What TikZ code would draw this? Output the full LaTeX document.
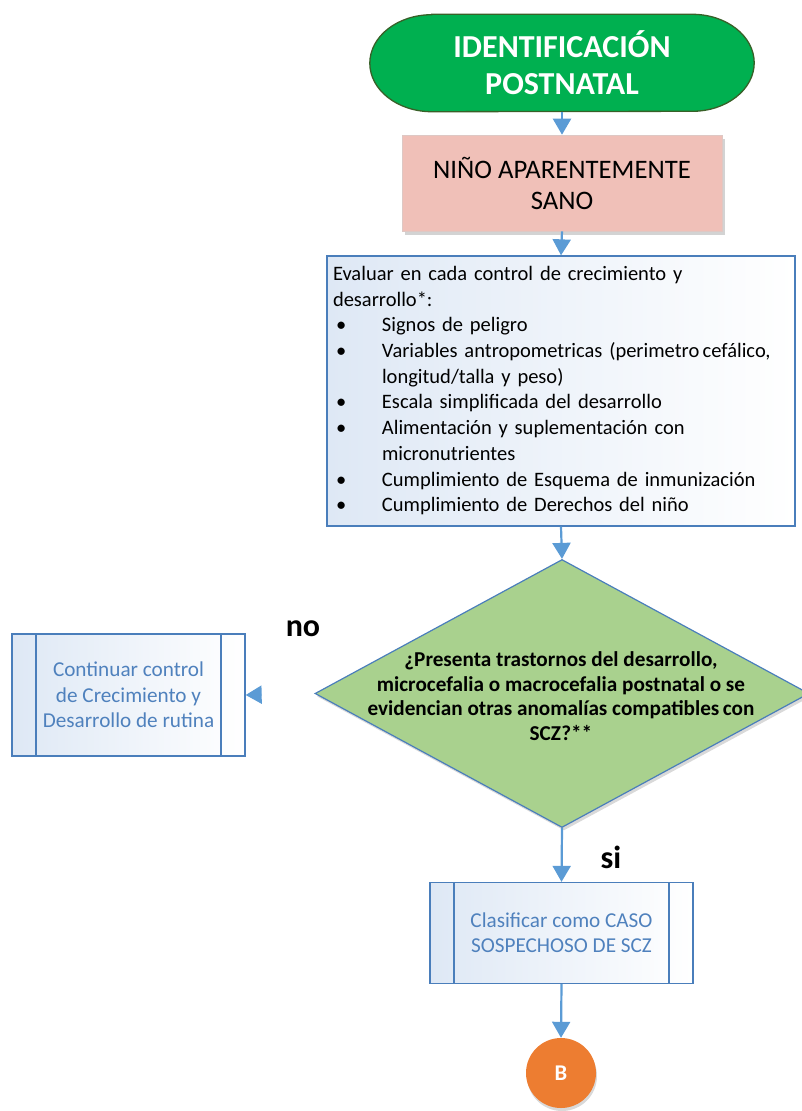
\documentclass[tikz,border=0pt]{standalone}
\usepackage{fontspec}
\setmainfont{Carlito}
\usetikzlibrary{arrows.meta,shadows,shapes.geometric,backgrounds}

\definecolor{termgreen}{RGB}{0,176,80}
\definecolor{termedge}{RGB}{56,96,40}
\definecolor{rosefill}{RGB}{240,192,184}
\definecolor{rosedge}{RGB}{222,200,196}
\definecolor{boxblue}{RGB}{74,126,187}
\definecolor{textblue}{RGB}{79,129,189}
\definecolor{paleblue}{RGB}{222,232,245}
\definecolor{decgreen}{RGB}{169,209,142}
\definecolor{flowblue}{RGB}{91,155,213}
\definecolor{orangefill}{RGB}{237,125,49}

\begin{document}
\begin{tikzpicture}[x=1pt,y=-1pt,
  term/.style={rectangle,minimum width=384pt,minimum height=97pt,inner sep=0pt,
    text=white,align=center,font=\fontsize{32}{37}\selectfont\bfseries},
  rosebox/.style={rectangle,minimum width=320pt,minimum height=96pt,inner sep=0pt,
    fill=rosefill,draw=rosedge,line width=0.6pt,align=center,
    font=\fontsize{26.7}{31}\selectfont,
    drop shadow={shadow xshift=3pt,shadow yshift=-4pt,opacity=0.35}},
  evalbox/.style={rectangle,minimum width=468pt,minimum height=270pt,
    inner xsep=6pt,inner ysep=0pt,text width=456pt,
    draw=boxblue,line width=1.3pt,left color=paleblue,right color=white,
    font=\fontsize{20.5}{25.7}\selectfont},
  decision/.style={diamond,minimum width=494pt,minimum height=268pt,inner sep=0pt,
    fill=decgreen,draw=boxblue,line width=1.2pt,
    drop shadow={shadow xshift=2pt,shadow yshift=-3pt,opacity=0.3}},
  dectext/.style={align=center,inner sep=0pt,font=\fontsize{21.2}{24.7}\selectfont\bfseries},
  subproc/.style={rectangle,inner sep=0pt,draw=boxblue,line width=1.3pt,
    left color=paleblue,right color=white,text=textblue,align=center,
    font=\fontsize{21.2}{25.3}\selectfont,
    path picture={
      \draw[boxblue,line width=1.3pt]
        ([xshift=24pt]path picture bounding box.north west) --
        ([xshift=24pt]path picture bounding box.south west)
        ([xshift=-24pt]path picture bounding box.north east) --
        ([xshift=-24pt]path picture bounding box.south east);}},
  joint/.style={circle,minimum size=70pt,inner sep=0pt,fill=orangefill,
    text=white,font=\fontsize{22.5}{26}\selectfont\bfseries,
    drop shadow={shadow xshift=1pt,shadow yshift=-3pt,opacity=0.3}},
  answer/.style={inner sep=0pt,font=\fontsize{32}{36}\selectfont\bfseries},
  flow/.style={draw=flowblue,line width=2.2pt,
    -{Triangle[width=18pt,length=16pt]}}
]
\useasboundingbox (0,0) rectangle (801,1111);

% start terminator
\node[term] (start) at (562,63) {IDENTIFICACIÓN\\POSTNATAL};
\begin{scope}[on background layer]
  \path[fill=termgreen,draw=termedge,line width=1.3pt]
    ([xshift=62pt]start.north west) -- ([xshift=-62pt]start.north east)
    arc[start angle=90,end angle=-90,x radius=62pt,y radius=48.5pt]
    -- ([xshift=62pt]start.south west)
    arc[start angle=-90,end angle=-270,x radius=62pt,y radius=48.5pt]
    -- cycle;
\end{scope}

% process steps
\node[rosebox] (sano) at (562,183) {NIÑO APARENTEMENTE\\SANO};

\node[evalbox] (eval) at (561,391) {\noindent
\begin{tabular}{@{}p{49pt}@{}l@{}}
\multicolumn{2}{@{}l@{}}{Evaluar en cada control de crecimiento y}\\
\multicolumn{2}{@{}l@{}}{desarrollo*:}\\
\hspace*{3pt}\textbullet & Signos de peligro\\
\hspace*{3pt}\textbullet & Variables antropometricas (perimetro\,cefálico,\\
 & longitud/talla y peso)\\
\hspace*{3pt}\textbullet & Escala simplificada del desarrollo\\
\hspace*{3pt}\textbullet & Alimentación y suplementación con\\
 & micronutrientes\\
\hspace*{3pt}\textbullet & Cumplimiento de Esquema de inmunización\\
\hspace*{3pt}\textbullet & Cumplimiento de Derechos del niño
\end{tabular}};

% decision
\node[decision] (q) at (562,693.5) {};
\node[dectext] (qtext) at (561,696) {¿Presenta trastornos del desarrollo,\\
microcefalia o macrocefalia postnatal o se\\
evidencian otras anomalías compatibles\,con\\
SCZ?**};

% outcomes
\node[subproc,minimum width=233pt,minimum height=122pt] (cont) at (128.5,695)
  {Continuar control\\de Crecimiento y\\Desarrollo de rutina};
\node[subproc,minimum width=263pt,minimum height=101pt] (clas) at (561.5,933)
  {Clasificar como CASO\\SOSPECHOSO DE SCZ};
\node[joint] (b) at (561,1073) {B};

% branch labels
\node[answer] (no) at (303,629) {no};
\node[answer] (si) at (611,857) {si};

% connectors
\draw[flow] (start.south) -- (sano.north);
\draw[flow] (sano.south) -- (eval.north);
\draw[flow] (eval.south) -- (q.north);
\draw[flow,shorten <=53pt] (q.west) -- (cont.east);
\draw[flow] (q.south) -- (clas.north);
\draw[flow] (clas.south) -- (b.north);
\end{tikzpicture}
\end{document}
